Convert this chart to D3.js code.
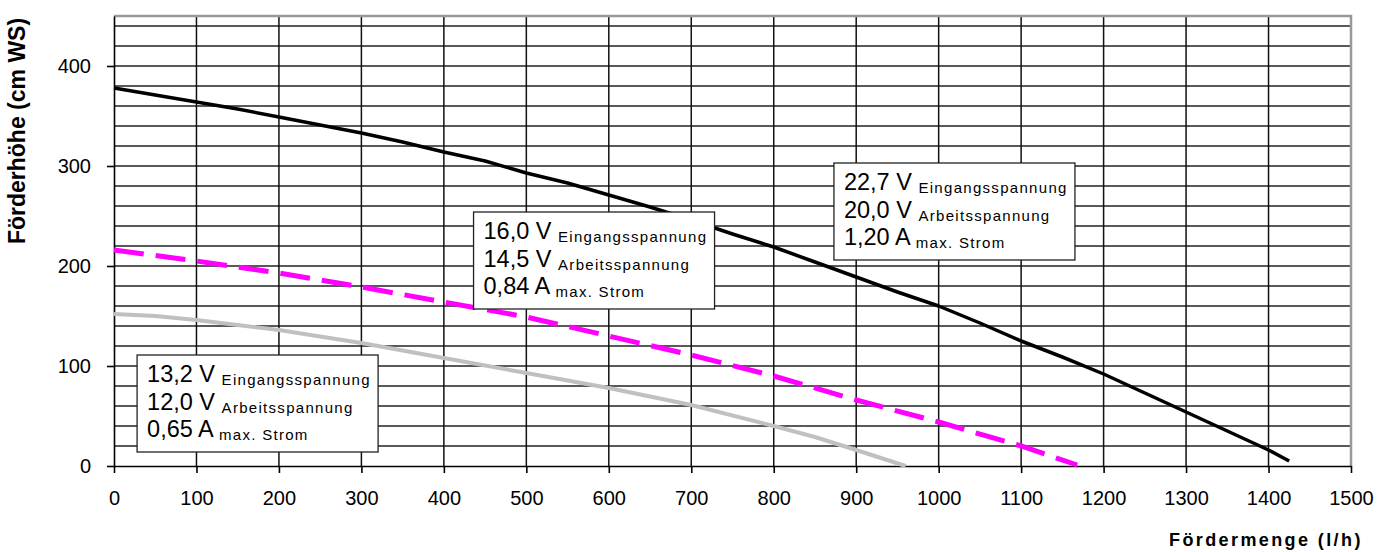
<!DOCTYPE html>
<html>
<head>
<meta charset="utf-8">
<script src="https://cdn.jsdelivr.net/npm/d3@7"></script>
<style>
  html, body { margin: 0; padding: 0; background: #fff; }
  svg { display: block; font-family: "Liberation Sans", Arial, sans-serif; }
</style>
</head>
<body>
<div id="chart"></div>
<script>
// ── DATA ─────────────────────────────────────
// Fördermenge (l/h) -> Förderhöhe (cm WS)
const curve20V = [
  [0, 378], [50, 371], [100, 364], [150, 357], [200, 349], [250, 341],
  [300, 333], [350, 324], [400, 314], [450, 305], [500, 293], [550, 283],
  [600, 271], [650, 259], [700, 246], [750, 232], [800, 219], [850, 204],
  [900, 189], [950, 174], [1000, 160], [1050, 143], [1100, 125], [1150, 109],
  [1200, 92], [1250, 73], [1300, 54], [1350, 35], [1400, 16], [1425, 5]
];

const curve145V = [
  [0, 216], [100, 205], [200, 193], [300, 179], [400, 164], [500, 149],
  [600, 130], [700, 111], [800, 90], [900, 66], [1000, 44], [1100, 20],
  [1168, 1]
];

const curve12V = [
  [0, 152], [50, 150], [100, 146], [200, 136], [300, 123], [400, 108],
  [500, 93], [600, 78], [700, 61], [800, 40], [850, 29], [900, 16],
  [930, 8], [960, 0]
];

const xTicks = d3.range(0, 1501, 100);
const yTicks = [0, 100, 200, 300, 400];
const yGrid = d3.range(20, 441, 20);

// label lines: [big value, small suffix]
const label12V = [['13,2 V', 'Eingangsspannung'], ['12,0 V', 'Arbeitsspannung'], ['0,65 A', 'max. Strom']];
const label145V = [['16,0 V', 'Eingangsspannung'], ['14,5 V', 'Arbeitsspannung'], ['0,84 A', 'max. Strom']];
const label20V = [['22,7 V', 'Eingangsspannung'], ['20,0 V', 'Arbeitsspannung'], ['1,20 A', 'max. Strom']];

const xTitle = 'Fördermenge (l/h)';
const yTitle = 'Förderhöhe (cm WS)';

// ── LAYOUT ───────────────────────────────────
const W = 1394, H = 552;
const M = { t: 16, r: 43, b: 86, l: 114 };
const w = W - M.l - M.r;
const h = H - M.t - M.b;

const svg = d3.select('#chart')
  .append('svg')
  .attr('width', W)
  .attr('height', H);

const x = d3.scaleLinear().domain([0, 1500]).range([M.l, M.l + w]);
const y = d3.scaleLinear().domain([0, 450]).range([M.t + h, M.t]);

// ── GRID ─────────────────────────────────────
svg.append('g')
  .selectAll('line')
  .data(yGrid)
  .enter()
  .append('line')
  .attr('x1', x(0)).attr('x2', x(1500))
  .attr('y1', d => y(d)).attr('y2', d => y(d))
  .attr('stroke', '#222')
  .attr('stroke-width', 1.5);

svg.append('g')
  .selectAll('line')
  .data(xTicks.filter(d => d > 0 && d < 1500))
  .enter()
  .append('line')
  .attr('x1', d => x(d)).attr('x2', d => x(d))
  .attr('y1', y(0)).attr('y2', y(450))
  .attr('stroke', '#111')
  .attr('stroke-width', 1.5);

// plot border (top / right grey)
svg.append('path')
  .attr('d', `M${x(0)},${y(450)}H${x(1500)}V${y(0)}`)
  .attr('fill', 'none')
  .attr('stroke', '#999')
  .attr('stroke-width', 2.5);

// ── AXES ─────────────────────────────────────
const xAxis = svg.append('g')
  .attr('transform', `translate(0,${y(0)})`)
  .call(d3.axisBottom(x).tickValues(xTicks).tickFormat(d3.format('d'))
    .tickSize(7).tickPadding(18).tickSizeOuter(0));

const yAxis = svg.append('g')
  .attr('transform', `translate(${x(0)},0)`)
  .call(d3.axisLeft(y).tickValues(yTicks).tickFormat(d3.format('d'))
    .tickSize(7).tickPadding(16).tickSizeOuter(0));

[xAxis, yAxis].forEach(a => {
  a.select('.domain').attr('stroke', '#000').attr('stroke-width', 1.6);
  a.selectAll('.tick line').attr('stroke', '#000').attr('stroke-width', 1.6);
  a.selectAll('.tick text')
    .attr('fill', '#000')
    .attr('font-size', 20)
    .attr('font-family', '"Liberation Sans", Arial, sans-serif');
});
xAxis.selectAll('.tick text').attr('dy', '0.71em');

// ── CURVES ───────────────────────────────────
const line = d3.line()
  .x(d => x(d[0]))
  .y(d => y(d[1]));

svg.append('path')
  .datum(curve12V)
  .attr('d', line)
  .attr('fill', 'none')
  .attr('stroke', '#c0c0c0')
  .attr('stroke-width', 4);

svg.append('path')
  .datum(curve145V)
  .attr('d', line)
  .attr('fill', 'none')
  .attr('stroke', '#ff00ff')
  .attr('stroke-width', 5)
  .attr('stroke-dasharray', '30,12');

svg.append('path')
  .datum(curve20V)
  .attr('d', line)
  .attr('fill', 'none')
  .attr('stroke', '#000')
  .attr('stroke-width', 3.5)
  .attr('stroke-linejoin', 'round');

// ── LABEL BOXES ──────────────────────────────
function drawBox(lines, x0, y0, id) {
  const bw = 241, bh = 97;
  const g = svg.append('g').attr('transform', `translate(${x0},${y0})`);

  g.append('clipPath')
    .attr('id', id)
    .append('rect')
    .attr('width', bw - 2).attr('height', bh);

  g.append('rect')
    .attr('width', bw).attr('height', bh)
    .attr('fill', '#fff')
    .attr('stroke', '#222')
    .attr('stroke-width', 1.3);

  const t = g.append('g').attr('clip-path', `url(#${id})`);

  lines.forEach((l, i) => {
    const txt = t.append('text')
      .attr('x', 10)
      .attr('y', 27 + i * 27.5)
      .attr('fill', '#000');
    txt.append('tspan')
      .attr('font-size', 23.5)
      .text(l[0] + ' ');
    txt.append('tspan')
      .attr('font-size', 15)
      .attr('letter-spacing', 1.3)
      .attr('dy', 3)
      .text(l[1]);
  });
}

drawBox(label12V, x(28), y(111), 'clip12');
drawBox(label145V, x(436), y(254), 'clip145');
drawBox(label20V, x(873), y(303), 'clip20');

// ── TITLES ───────────────────────────────────
svg.append('clipPath')
  .attr('id', 'xtitle-clip')
  .append('rect')
  .attr('x', 0).attr('y', 0)
  .attr('width', 1361).attr('height', H);

svg.append('text')
  .attr('clip-path', 'url(#xtitle-clip)')
  .attr('x', 1169)
  .attr('y', 546)
  .attr('font-size', 18)
  .attr('font-weight', 'bold')
  .attr('letter-spacing', 2.4)
  .attr('fill', '#000')
  .text(xTitle);

svg.append('text')
  .attr('transform', `translate(25,${y(335)}) rotate(-90)`)
  .attr('text-anchor', 'middle')
  .attr('font-size', 23)
  .attr('font-weight', 'bold')
  .attr('fill', '#000')
  .text(yTitle);
</script>
</body>
</html>
